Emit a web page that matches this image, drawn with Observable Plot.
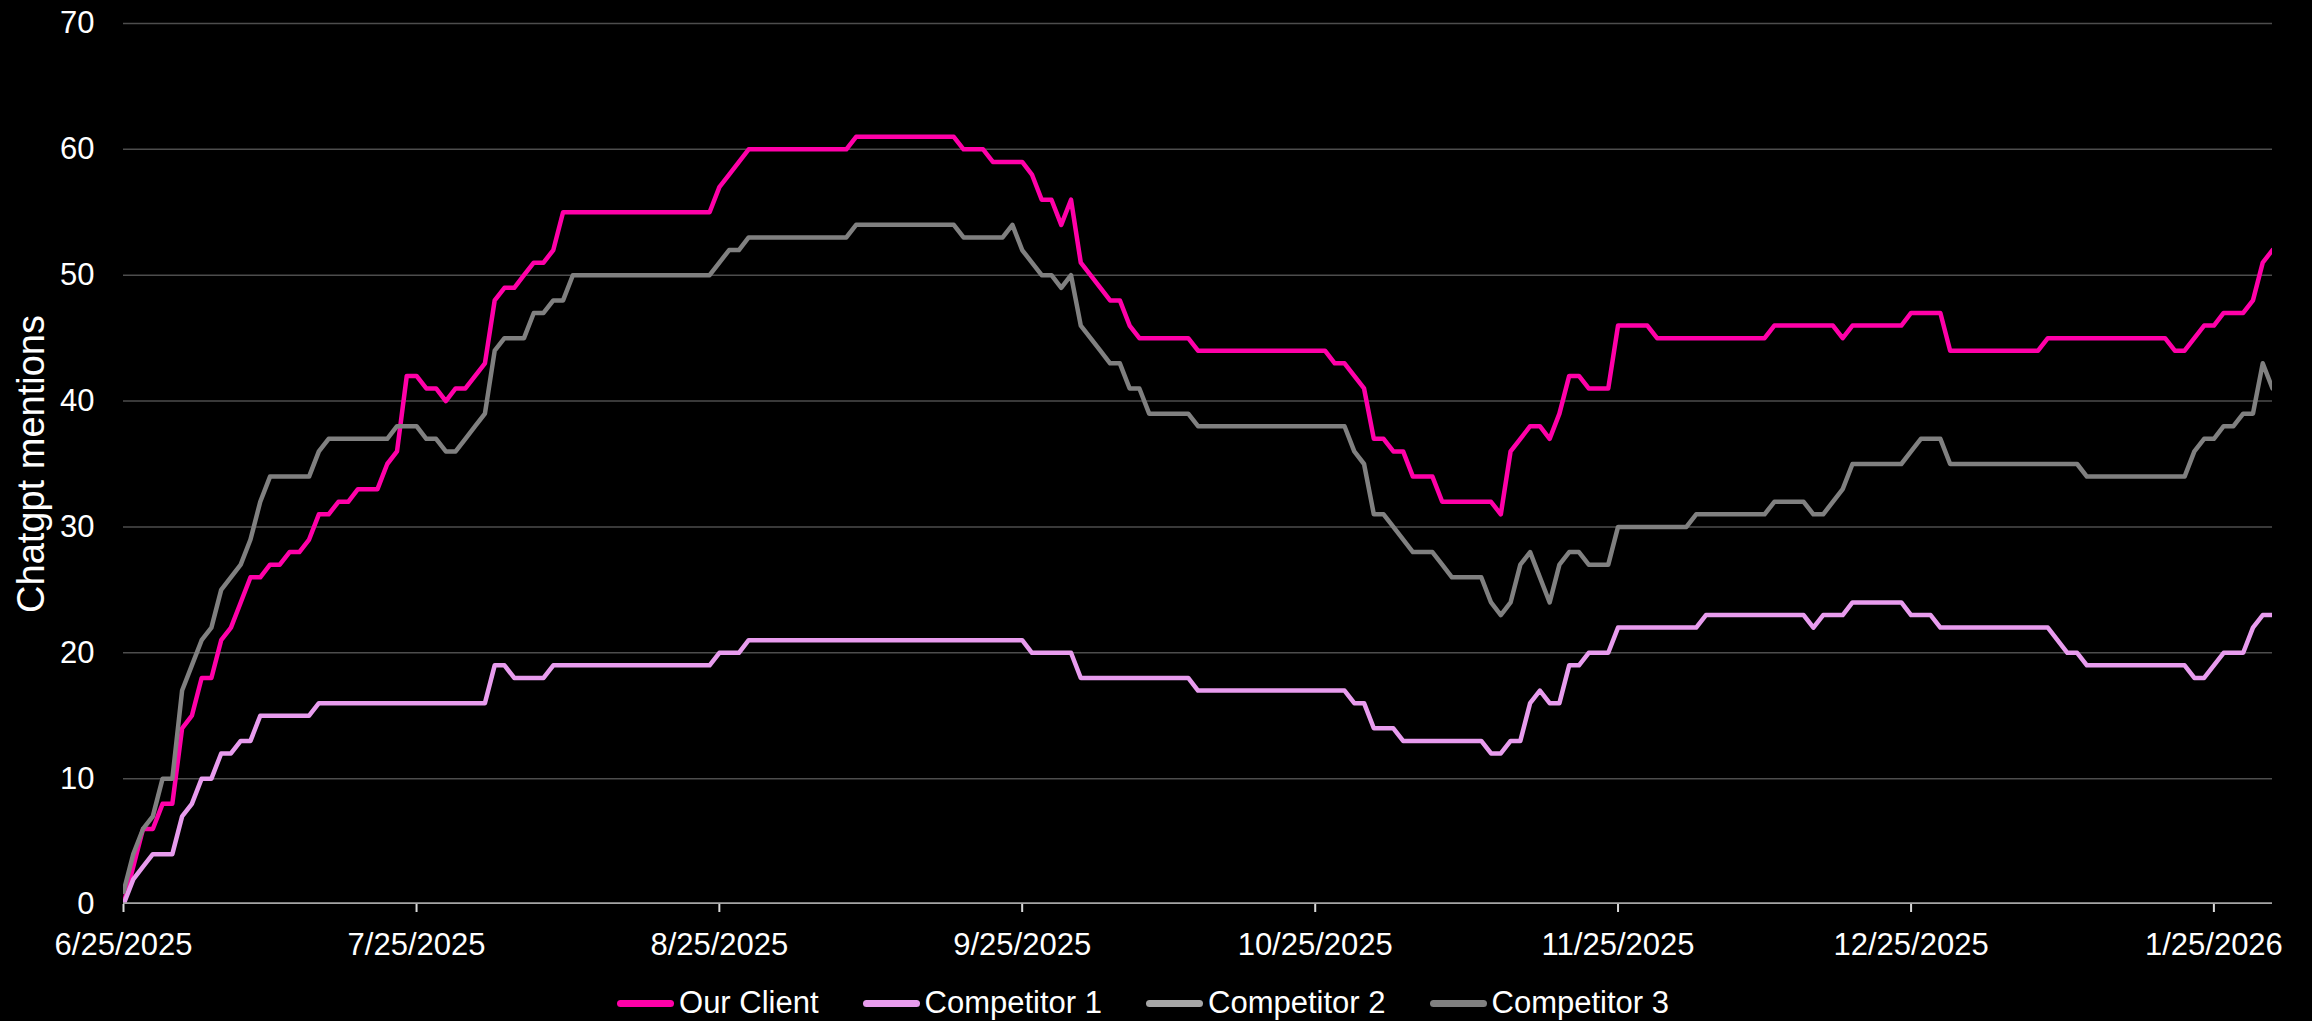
<!DOCTYPE html>
<html>
<head>
<meta charset="utf-8">
<script src="https://cdn.jsdelivr.net/npm/d3@7"></script>
<script src="https://cdn.jsdelivr.net/npm/@observablehq/plot@0.6"></script>
<style>
  html, body { margin: 0; padding: 0; background: #000; }
  #chart { width: 2312px; }
  .legend { display: flex; justify-content: center; align-items: center; height: 66px; width: 2312px; padding-right: 26px; box-sizing: border-box;
            font-family: "Liberation Sans", Arial, sans-serif; font-size: 31px; color: #fff; }
  .item { display: flex; align-items: center; margin: 0 22px; }
  .sw { width: 57px; height: 7px; border-radius: 4px; margin-right: 5px; }
</style>
</head>
<body>
<div id="chart"></div>
<div class="legend" id="legend"></div>
<script>
// ---- data (day offset from 6/25/2025, value) ----
const startDate = "2025-06-25";
const endDate = "2026-01-31";
const seriesNames = ["Our Client", "Competitor 1", "Competitor 2", "Competitor 3"];
const seriesColors = ["#FF00A8", "#E89CEE", "#A6A6A6", "#808080"];

const ourClient = [[0,0],[1,3],[2,6],[3,6],[4,8],[5,8],[6,14],[7,15],[8,18],[9,18],[10,21],[11,22],[12,24],[13,26],[14,26],[15,27],[16,27],[17,28],[18,28],[19,29],[20,31],[21,31],[22,32],[23,32],[24,33],[26,33],[27,35],[28,36],[29,42],[30,42],[31,41],[32,41],[33,40],[34,41],[35,41],[36,42],[37,43],[38,48],[39,49],[40,49],[41,50],[42,51],[43,51],[44,52],[45,55],[60,55],[61,57],[62,58],[64,60],[74,60],[75,61],[85,61],[86,60],[88,60],[89,59],[92,59],[93,58],[94,56],[95,56],[96,54],[97,56],[98,51],[99,50],[101,48],[102,48],[103,46],[104,45],[109,45],[110,44],[123,44],[124,43],[125,43],[127,41],[128,37],[129,37],[130,36],[131,36],[132,34],[134,34],[135,32],[140,32],[141,31],[142,36],[143,37],[144,38],[145,38],[146,37],[147,39],[148,42],[149,42],[150,41],[152,41],[153,46],[156,46],[157,45],[168,45],[169,46],[175,46],[176,45],[177,46],[182,46],[183,47],[186,47],[187,44],[196,44],[197,45],[209,45],[210,44],[211,44],[213,46],[214,46],[215,47],[217,47],[218,48],[219,51],[220,52]];

const competitor1 = [[0,0],[1,2],[2,3],[3,4],[5,4],[6,7],[7,8],[8,10],[9,10],[10,12],[11,12],[12,13],[13,13],[14,15],[19,15],[20,16],[37,16],[38,19],[39,19],[40,18],[43,18],[44,19],[60,19],[61,20],[63,20],[64,21],[92,21],[93,20],[97,20],[98,18],[109,18],[110,17],[125,17],[126,16],[127,16],[128,14],[130,14],[131,13],[139,13],[140,12],[141,12],[142,13],[143,13],[144,16],[145,17],[146,16],[147,16],[148,19],[149,19],[150,20],[152,20],[153,22],[161,22],[162,23],[172,23],[173,22],[174,23],[176,23],[177,24],[182,24],[183,23],[185,23],[186,22],[197,22],[199,20],[200,20],[201,19],[211,19],[212,18],[213,18],[215,20],[217,20],[218,22],[219,23],[220,23]];

const competitor2 = [[0,0],[220,0]];

const competitor3 = [[0,1],[1,4],[2,6],[3,7],[4,10],[5,10],[6,17],[7,19],[8,21],[9,22],[10,25],[12,27],[13,29],[14,32],[15,34],[19,34],[20,36],[21,37],[27,37],[28,38],[30,38],[31,37],[32,37],[33,36],[34,36],[35,37],[36,38],[37,39],[38,44],[39,45],[41,45],[42,47],[43,47],[44,48],[45,48],[46,50],[60,50],[61,51],[62,52],[63,52],[64,53],[74,53],[75,54],[85,54],[86,53],[90,53],[91,54],[92,52],[93,51],[94,50],[95,50],[96,49],[97,50],[98,46],[100,44],[101,43],[102,43],[103,41],[104,41],[105,39],[109,39],[110,38],[125,38],[126,36],[127,35],[128,31],[129,31],[130,30],[132,28],[134,28],[135,27],[136,26],[139,26],[140,24],[141,23],[142,24],[143,27],[144,28],[146,24],[147,27],[148,28],[149,28],[150,27],[152,27],[153,30],[160,30],[161,31],[168,31],[169,32],[172,32],[173,31],[174,31],[176,33],[177,35],[182,35],[183,36],[184,37],[186,37],[187,35],[200,35],[201,34],[211,34],[212,36],[213,37],[214,37],[215,38],[216,38],[217,39],[218,39],[219,43],[220,41]];

const xTickLabels = ["6/25/2025","7/25/2025","8/25/2025","9/25/2025","10/25/2025","11/25/2025","12/25/2025","1/25/2026"];
const yTicks = [0,10,20,30,40,50,60,70];
const yTitle = "Chatgpt mentions";

// ---- build ----
const parseMDY = d3.utcParse("%m/%d/%Y");
const start = d3.utcParse("%Y-%m-%d")(startDate);
const end = d3.utcParse("%Y-%m-%d")(endDate);
const xTickDates = xTickLabels.map(s => parseMDY(s));
const fmt = d3.utcFormat("%-m/%-d/%Y");

const allSeries = [ourClient, competitor1, competitor2, competitor3];
const rows = [];
allSeries.forEach((arr, i) => arr.forEach(([d, v]) => rows.push({series: seriesNames[i], date: d3.utcDay.offset(start, d), value: v})));

const font = '"Liberation Sans", Arial, sans-serif';

const lineMarks = seriesNames.map((name, i) =>
  Plot.line(rows.filter(r => r.series === name), {
    x: "date", y: "value", stroke: seriesColors[i], strokeWidth: 4.5,
    strokeLinejoin: "round", strokeLinecap: "round", clip: true
  })
);

const chart = Plot.plot({
  width: 2312,
  height: 970,
  marginTop: 23,
  marginBottom: 66,
  marginLeft: 123,
  marginRight: 40,
  style: {background: "#000", color: "#fff", fontFamily: font, fontSize: "31px"},
  x: {type: "utc", domain: [start, end]},
  y: {domain: [0, 70]},
  marks: [
    Plot.ruleY(yTicks.filter(t => t > 0), {stroke: "#4d4d4d", strokeWidth: 1.5}),
    Plot.axisY({ticks: yTicks, tickSize: 0, tickPadding: 29, label: null, fill: "#fff"}),
    Plot.axisX({ticks: xTickDates, tickFormat: fmt, tickSize: 8, tickPadding: 20, label: null, stroke: "#d9d9d9", strokeWidth: 2, fill: "#fff"}),
    ...lineMarks,
    Plot.text([yTitle], {frameAnchor: "left", dx: -92, rotate: -90, textAnchor: "middle", lineAnchor: "middle", fontSize: 38, fill: "#fff"})
  ]
});
document.getElementById("chart").appendChild(chart);

const legend = document.getElementById("legend");
seriesNames.forEach((name, i) => {
  const it = document.createElement("div");
  it.className = "item";
  const sw = document.createElement("span");
  sw.className = "sw";
  sw.style.background = seriesColors[i];
  const tx = document.createElement("span");
  tx.textContent = name;
  it.appendChild(sw); it.appendChild(tx);
  legend.appendChild(it);
});
</script>
</body>
</html>
